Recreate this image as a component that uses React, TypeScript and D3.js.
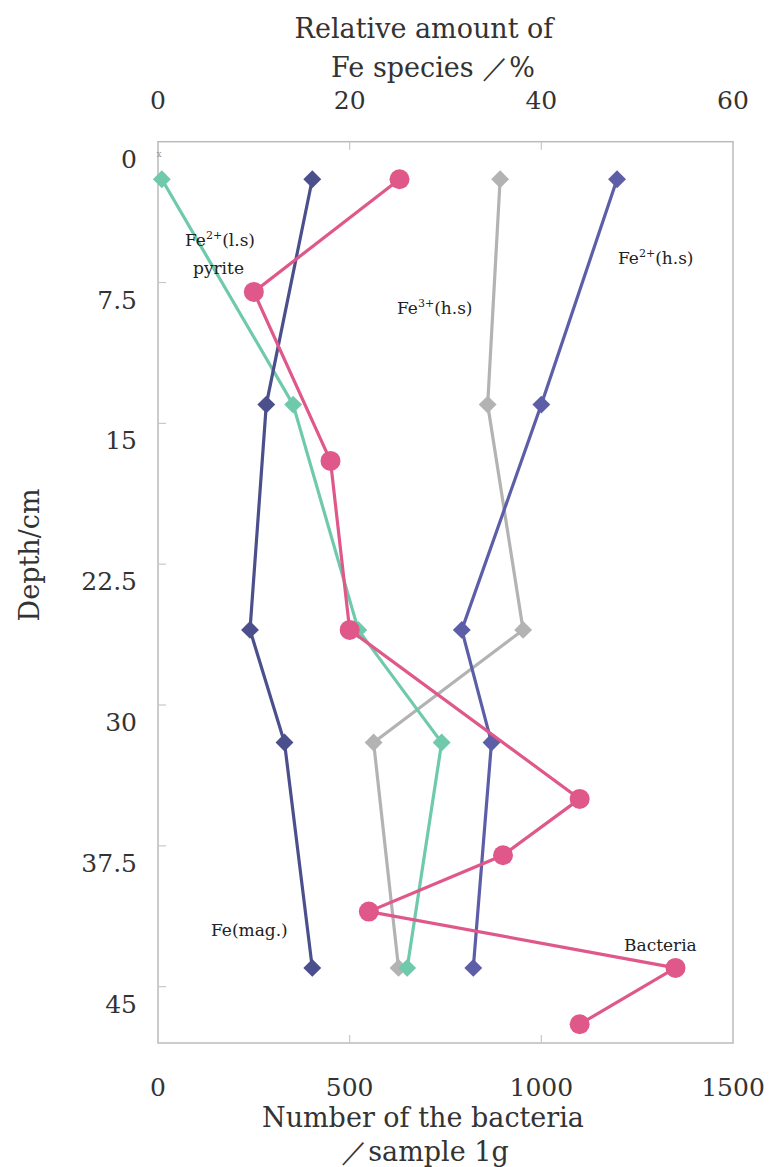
import React from "react";
import * as d3 from "d3";

// depth of the Moessbauer samples (cm)
const feDepths = [2, 14, 26, 32, 44];
// relative amount of Fe species (%)
const feMag = [16.1, 11.3, 9.6, 13.2, 16.1];
const fe2ls = [0.4, 14.1, 20.9, 29.6, 26.0];
const fe3hs = [35.7, 34.4, 38.1, 22.5, 25.1];
const fe2hs = [47.9, 40.0, 31.7, 34.8, 32.9];

// bacteria counts
const bacDepths = [2, 8, 17, 26, 35, 38, 41, 44, 47];
const bacteria = [630, 250, 450, 500, 1100, 900, 550, 1350, 1100];

const depthTicks = [0, 7.5, 15, 22.5, 30, 37.5, 45];
const pctTicks = [0, 20, 40, 60];
const bacTicks = [0, 500, 1000, 1500];

const W = 771;
const H = 1167;
const FONT = "'DejaVu Serif', 'Liberation Serif', serif";

const App = () => {
  const left = 158, right = 733, top = 141.7, bottom = 1043;
  const y = d3.scaleLinear().domain([0, 48]).range([top, bottom]);
  const xPct = d3.scaleLinear().domain([0, 60]).range([left, right]);
  const xBac = d3.scaleLinear().domain([0, 1500]).range([left, right]);

  const line = d3.line<[number, number]>().x((d) => d[0]).y((d) => d[1]);
  const diamond = d3.symbol().type(d3.symbolSquare).size(160)();

  const feSeries = [
    { vals: fe3hs, color: "#b3b3b3" },
    { vals: fe2ls, color: "#6fcaab" },
    { vals: feMag, color: "#4b4f8c" },
    { vals: fe2hs, color: "#5d5ea8" },
  ];

  const bacPts: [number, number][] = bacteria.map((v, i) => [xBac(v), y(bacDepths[i])]);

  return (
    <svg width={W} height={H} style={{ position: "absolute", left: 0, top: 0, background: "#fff" }}>
      {/* frame */}
      <rect x={left} y={top} width={right - left} height={bottom - top} fill="none" stroke="#bbbbbb" strokeWidth={1.5} />
      {/* inner ticks */}
      {depthTicks.slice(1).map((t) => (
        <line key={"dt" + t} x1={left} x2={left + 8} y1={y(t)} y2={y(t)} stroke="#c8c8c8" strokeWidth={1.2} />
      ))}
      {pctTicks.slice(1, -1).map((t) => (
        <line key={"pt" + t} x1={xPct(t)} x2={xPct(t)} y1={top} y2={top + 8} stroke="#c8c8c8" strokeWidth={1.2} />
      ))}
      {bacTicks.slice(1, -1).map((t) => (
        <line key={"bt" + t} x1={xBac(t)} x2={xBac(t)} y1={bottom} y2={bottom - 8} stroke="#c8c8c8" strokeWidth={1.2} />
      ))}

      {/* tick labels */}
      <g fontFamily={FONT} fontSize={25} fill="#333">
        {depthTicks.map((t) => (
          <text key={"dl" + t} x={137} y={y(t) + 26} textAnchor="end">{t}</text>
        ))}
        {pctTicks.map((t) => (
          <text key={"pl" + t} x={xPct(t)} y={109} textAnchor="middle">{t}</text>
        ))}
        {bacTicks.map((t) => (
          <text key={"bl" + t} x={xBac(t)} y={1096} textAnchor="middle">{t}</text>
        ))}
      </g>

      {/* axis titles */}
      <g fontFamily={FONT} fontSize={27} fill="#333">
        <text x={424} y={38} textAnchor="middle">Relative amount of</text>
        <text x={433} y={77} textAnchor="middle">Fe species ／%</text>
        <text x={423} y={1127} textAnchor="middle">Number of the bacteria</text>
        <text x={425} y={1161} textAnchor="middle">／sample 1g</text>
        <text transform="translate(39,555) rotate(-90)" textAnchor="middle">Depth/cm</text>
      </g>
      <text x={159} y={157} fontSize={9} fill="#999" textAnchor="middle" fontFamily={FONT}>x</text>

      {/* Fe species */}
      {feSeries.map((s, si) => {
        const pts: [number, number][] = s.vals.map((v, i) => [xPct(v), y(feDepths[i])]);
        return (
          <g key={"fe" + si}>
            <path d={line(pts) || ""} fill="none" stroke={s.color} strokeWidth={3.2} />
            {pts.map((p, i) => (
              <path key={i} d={diamond || ""} transform={`translate(${p[0]},${p[1]}) rotate(45)`} fill={s.color} />
            ))}
          </g>
        );
      })}

      {/* bacteria */}
      <path d={line(bacPts) || ""} fill="none" stroke="#e0588a" strokeWidth={3.2} />
      {bacPts.map((p, i) => (
        <circle key={"b" + i} cx={p[0]} cy={p[1]} r={10} fill="#e0588a" />
      ))}

      {/* series labels */}
      <g fontFamily={FONT} fontSize={17} fill="#222">
        <text x={185} y={246}>Fe<tspan dy={-7} fontSize={11}>2+</tspan><tspan dy={7}>(l.s)</tspan></text>
        <text x={193} y={274}>pyrite</text>
        <text x={397} y={314}>Fe<tspan dy={-7} fontSize={11}>3+</tspan><tspan dy={7}>(h.s)</tspan></text>
        <text x={618} y={264}>Fe<tspan dy={-7} fontSize={11}>2+</tspan><tspan dy={7}>(h.s)</tspan></text>
        <text x={211} y={936}>Fe(mag.)</text>
        <text x={624} y={951}>Bacteria</text>
      </g>
    </svg>
  );
};

export default App;
